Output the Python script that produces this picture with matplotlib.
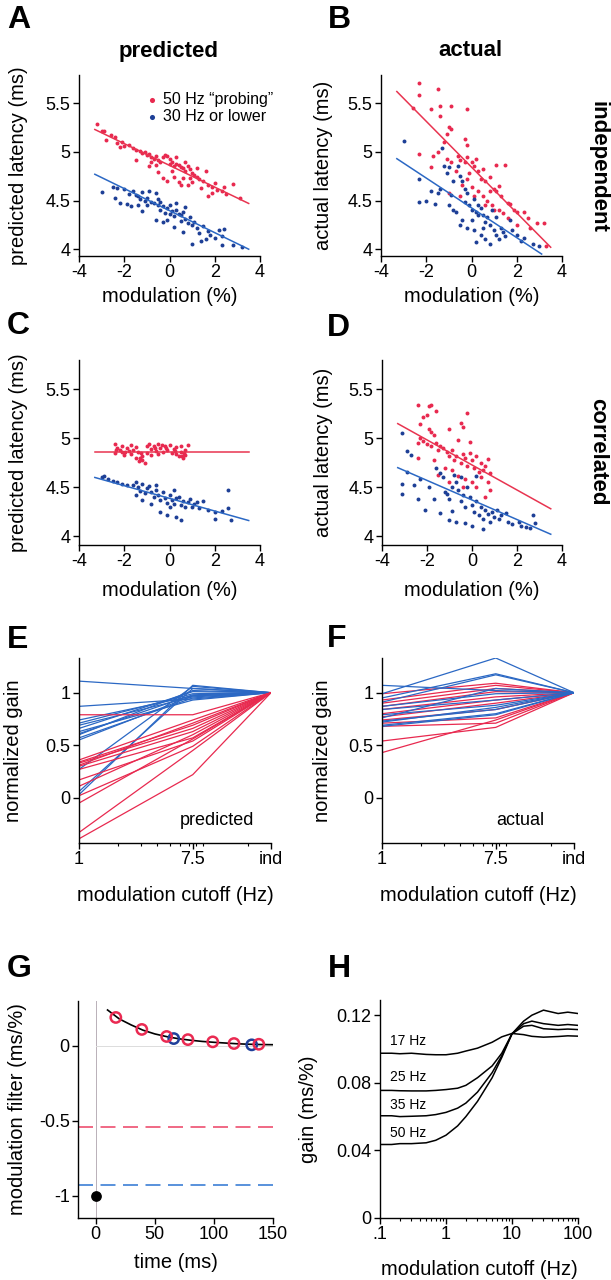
import numpy as np
import matplotlib.pyplot as plt

plt.rcParams['font.family'] = ['Liberation Sans', 'DejaVu Sans']
plt.rcParams['axes.unicode_minus'] = False

RED = '#e8294f'
BLUE = '#1d3f96'
RED_LINE = '#e83450'
BLUE_LINE = '#2b68c4'

# ---------- scatter data (modulation %, latency ms) ----------
a_red = [(-3.2, 5.29), (-3.0, 5.21), (-2.9, 5.21), (-2.6, 5.17), (-2.4, 5.15), (-2.3, 5.09), (-2.1, 5.10),
         (-2.0, 5.06), (-1.8, 5.07), (-1.6, 5.04), (-1.5, 5.02), (-1.3, 5.01), (-1.2, 4.99), (-1.1, 5.00),
         (-1.0, 4.97), (-0.9, 4.98), (-0.8, 4.95), (-0.8, 4.90), (-0.7, 4.93), (-0.6, 4.96), (-0.5, 4.92),
         (-0.4, 4.90), (-0.3, 4.95), (-0.2, 4.97), (-0.1, 4.96), (0.0, 4.93), (0.0, 4.88), (0.1, 4.90),
         (0.2, 4.85), (0.3, 4.88), (0.4, 4.86), (0.5, 4.84), (0.6, 4.83), (0.7, 4.80), (0.8, 4.85),
         (0.9, 4.82), (1.0, 4.78), (1.1, 4.76), (1.2, 4.74), (1.3, 4.72), (1.5, 4.70), (1.7, 4.66),
         (1.9, 4.64), (2.1, 4.61), (2.3, 4.60), (2.5, 4.57), (2.8, 4.67), (3.1, 4.53), (-0.3, 4.73),
         (-0.1, 4.70), (0.2, 4.74), (0.4, 4.69), (0.6, 4.73), (0.8, 4.66), (1.4, 4.63), (1.7, 4.55),
         (1.6, 4.80), (-0.9, 4.85), (-1.5, 4.92), (0.9, 4.73), (2.4, 4.64), (1.9, 4.58), (-0.5, 4.79),
         (0.1, 4.80), (1.2, 4.83), (-2.2, 5.05), (-2.8, 5.12), (0.3, 4.95), (-0.6, 4.87), (0.7, 4.90),
         (1.0, 4.69), (0.5, 4.66), (2.0, 4.68)]
a_blue = [(-3.0, 4.59), (-2.5, 4.64), (-2.3, 4.63), (-2.2, 4.47), (-2.0, 4.62), (-1.9, 4.46), (-1.8, 4.57),
          (-1.7, 4.44), (-1.6, 4.60), (-1.5, 4.56), (-1.4, 4.55), (-1.3, 4.52), (-1.2, 4.59), (-1.1, 4.50),
          (-1.0, 4.53), (-1.0, 4.45), (-0.9, 4.60), (-0.8, 4.49), (-0.7, 4.47), (-0.6, 4.58), (-0.5, 4.45),
          (-0.4, 4.49), (-0.4, 4.40), (-0.3, 4.44), (-0.2, 4.37), (-0.1, 4.42), (0.0, 4.45), (0.0, 4.36),
          (0.1, 4.39), (0.2, 4.34), (0.3, 4.40), (0.4, 4.36), (0.5, 4.35), (0.5, 4.29), (0.6, 4.38),
          (0.7, 4.31), (0.8, 4.27), (0.9, 4.33), (1.0, 4.25), (1.1, 4.28), (1.2, 4.22), (1.3, 4.17),
          (1.4, 4.08), (1.5, 4.24), (1.6, 4.10), (1.7, 4.19), (1.8, 4.15), (2.0, 4.12), (2.2, 4.20),
          (2.4, 4.21), (2.3, 4.14), (2.8, 4.04), (2.3, 4.04), (3.2, 4.02), (-0.6, 4.30), (-0.3, 4.28),
          (0.2, 4.23), (0.6, 4.18), (-1.2, 4.39), (-0.5, 4.52), (0.3, 4.47), (-0.1, 4.30), (1.0, 4.05),
          (0.7, 4.43), (-1.4, 4.45), (-2.4, 4.53)]
b_red = [(-2.3, 5.71), (-2.3, 5.58), (-1.5, 5.65), (-2.6, 5.45), (-1.8, 5.44), (-1.4, 5.47), (-1.4, 5.37),
         (-0.9, 5.47), (-0.2, 5.44), (-1.0, 5.26), (-1.1, 5.18), (-0.9, 5.23), (-1.2, 5.10), (-0.3, 5.13),
         (-0.2, 5.07), (-2.3, 4.98), (-1.7, 4.96), (-1.5, 5.00), (-1.1, 4.93), (-0.9, 4.90), (-0.6, 4.96),
         (-0.5, 4.92), (-0.3, 4.90), (-0.2, 4.95), (0.0, 4.90), (0.1, 4.85), (0.2, 4.93), (0.3, 4.80),
         (0.5, 4.82), (0.6, 4.70), (0.8, 4.74), (1.0, 4.62), (1.1, 4.60), (1.2, 4.65), (1.3, 4.55),
         (1.5, 4.87), (1.1, 4.86), (1.6, 4.47), (1.7, 4.46), (1.9, 4.40), (2.0, 4.38), (2.3, 4.38),
         (2.5, 4.32), (2.6, 4.22), (2.9, 4.27), (3.2, 4.27), (3.3, 4.03), (-0.2, 4.72), (-0.4, 4.66),
         (0.0, 4.64), (0.3, 4.60), (0.5, 4.55), (0.7, 4.50), (0.9, 4.45), (1.2, 4.40), (1.4, 4.37),
         (1.6, 4.32), (0.1, 4.55), (-0.1, 4.78), (0.4, 4.72), (0.8, 4.60), (-0.7, 4.80), (-1.8, 4.84),
         (-1.0, 4.58), (-0.5, 4.55), (2.0, 4.25), (1.0, 4.40), (0.6, 4.45)]
b_blue = [(-3.0, 5.11), (-1.3, 5.04), (-2.3, 4.72), (-2.3, 4.49), (-2.0, 4.50), (-1.8, 4.60), (-1.6, 4.46),
          (-1.4, 4.62), (-1.2, 4.85), (-1.1, 4.78), (-1.0, 4.84), (-0.9, 4.56), (-0.8, 4.70), (-0.6, 4.85),
          (-0.5, 4.75), (-0.4, 4.70), (-0.3, 4.62), (-0.3, 4.48), (-0.2, 4.58), (-0.1, 4.45), (0.0, 4.40),
          (0.0, 4.30), (0.1, 4.52), (0.2, 4.38), (0.3, 4.35), (0.4, 4.42), (0.5, 4.35), (0.6, 4.28),
          (0.7, 4.33), (0.8, 4.25), (0.9, 4.40), (1.0, 4.20), (1.1, 4.15), (1.2, 4.10), (1.3, 4.22),
          (1.4, 4.18), (1.5, 4.14), (1.7, 4.30), (1.8, 4.20), (2.0, 4.15), (2.2, 4.08), (2.3, 4.12),
          (2.7, 4.05), (3.0, 4.03), (-0.4, 4.30), (-0.2, 4.22), (0.1, 4.20), (0.4, 4.15), (0.6, 4.10),
          (0.8, 4.05), (-0.7, 4.38), (-1.0, 4.45), (-0.5, 4.25), (0.2, 4.07), (0.5, 4.22), (-1.5, 4.58),
          (-0.8, 4.40), (0.3, 4.45), (1.1, 4.33)]
c_red = [(-2.4, 4.94), (-2.3, 4.90), (-2.4, 4.85), (-2.2, 4.88), (-2.1, 4.86), (-2.0, 4.83), (-1.9, 4.90),
         (-1.8, 4.87), (-1.7, 4.84), (-1.6, 4.88), (-1.5, 4.91), (-1.4, 4.86), (-1.3, 4.80), (-1.2, 4.82),
         (-1.2, 4.78), (-1.1, 4.75), (-1.0, 4.85), (-1.0, 4.92), (-0.9, 4.94), (-0.8, 4.89), (-0.7, 4.92),
         (-0.6, 4.87), (-0.5, 4.94), (-0.4, 4.90), (-0.3, 4.86), (-0.2, 4.92), (-0.1, 4.88), (0.0, 4.93),
         (0.1, 4.85), (0.2, 4.89), (0.3, 4.84), (0.4, 4.82), (0.5, 4.86), (0.6, 4.80), (0.7, 4.83),
         (0.8, 4.93), (-1.5, 4.80), (-0.5, 4.84), (-2.1, 4.92), (0.3, 4.91), (-0.8, 4.83), (0.5, 4.92),
         (-1.7, 4.93), (0.7, 4.88), (-2.35, 4.88), (-1.95, 4.86), (-1.25, 4.85), (-0.65, 4.90),
         (-0.15, 4.90), (0.25, 4.87), (0.55, 4.82), (0.65, 4.85), (-1.35, 4.77), (-0.35, 4.93)]
c_blue = [(-3.0, 4.60), (-2.9, 4.61), (-2.7, 4.58), (-2.5, 4.56), (-2.3, 4.55), (-2.1, 4.53), (-1.9, 4.52),
          (-1.6, 4.52), (-1.5, 4.55), (-1.4, 4.50), (-1.3, 4.46), (-1.2, 4.53), (-1.1, 4.44), (-1.0, 4.49),
          (-0.9, 4.51), (-0.8, 4.45), (-0.7, 4.40), (-0.6, 4.47), (-0.5, 4.42), (-0.4, 4.37), (-0.3, 4.45),
          (-0.2, 4.39), (-0.1, 4.34), (0.0, 4.42), (0.0, 4.30), (0.1, 4.37), (0.2, 4.33), (0.3, 4.39),
          (0.4, 4.40), (0.5, 4.32), (0.6, 4.36), (0.7, 4.30), (0.8, 4.35), (0.9, 4.38), (1.0, 4.30),
          (1.1, 4.33), (1.2, 4.35), (1.5, 4.36), (1.3, 4.29), (1.7, 4.27), (2.0, 4.25), (2.3, 4.26),
          (2.6, 4.47), (2.6, 4.29), (2.7, 4.17), (2.0, 4.18), (0.3, 4.20), (0.5, 4.17), (-0.4, 4.25),
          (-0.1, 4.22), (-1.5, 4.42), (-0.8, 4.33), (-0.6, 4.52), (0.2, 4.47), (-1.2, 4.37)]
d_red = [(-2.4, 5.34), (-1.9, 5.33), (-1.8, 5.34), (-1.6, 5.28), (-2.2, 5.22), (-2.0, 5.24), (-2.3, 5.15),
         (-0.2, 5.26), (-0.5, 5.16), (-0.4, 5.12), (-1.9, 5.10), (-1.7, 5.03), (-1.0, 5.10), (-1.8, 5.06),
         (-2.3, 5.00), (-2.4, 4.95), (-2.2, 4.97), (-2.0, 4.94), (-1.8, 4.92), (-1.6, 4.95), (-1.5, 4.88),
         (-1.3, 4.90), (-1.1, 4.86), (-1.0, 4.82), (-0.9, 4.88), (-0.8, 4.78), (-0.7, 4.82), (-0.6, 4.98),
         (-0.5, 4.75), (-0.4, 4.84), (-0.3, 4.80), (-0.2, 4.72), (-0.1, 4.85), (0.0, 4.78), (0.1, 4.70),
         (0.2, 4.82), (0.3, 4.66), (0.4, 4.75), (0.5, 4.68), (0.6, 4.72), (0.7, 4.79), (0.8, 4.65),
         (0.7, 4.55), (0.8, 4.47), (0.6, 4.40), (-2.4, 4.80), (-1.7, 4.78), (-1.2, 4.70), (-0.9, 4.68),
         (-0.6, 4.62), (-0.3, 4.58), (0.0, 4.55), (0.2, 4.50), (-0.4, 4.50), (-1.0, 4.55), (-1.5, 4.63),
         (0.4, 4.60), (-0.1, 4.96), (-1.4, 4.92)]
d_blue = [(-3.1, 5.05), (-3.1, 4.53), (-3.1, 4.43), (-2.9, 4.87), (-2.9, 4.66), (-2.7, 4.83), (-2.6, 4.52),
          (-2.3, 4.58), (-2.1, 4.27), (-1.9, 4.50), (-1.7, 4.38), (-1.6, 4.70), (-1.4, 4.65), (-1.3, 4.60),
          (-1.2, 4.45), (-1.1, 4.43), (-1.0, 4.38), (-0.9, 4.50), (-0.8, 4.63), (-0.7, 4.55), (-0.6, 4.47),
          (-0.5, 4.36), (-0.4, 4.42), (-0.3, 4.30), (-0.2, 4.50), (-0.1, 4.40), (0.0, 4.32), (0.1, 4.25),
          (0.2, 4.36), (0.3, 4.22), (0.4, 4.30), (0.5, 4.18), (0.6, 4.27), (0.7, 4.23), (0.8, 4.15),
          (0.9, 4.25), (1.0, 4.20), (1.1, 4.27), (1.2, 4.18), (1.3, 4.22), (1.5, 4.24), (1.6, 4.14),
          (1.8, 4.12), (2.1, 4.15), (2.2, 4.10), (2.4, 4.09), (2.6, 4.08), (2.7, 4.22), (2.8, 4.13),
          (-1.0, 4.17), (-0.7, 4.15), (-0.3, 4.13), (0.0, 4.10), (0.5, 4.07), (-1.4, 4.24), (-0.9, 4.26),
          (-2.4, 4.38), (0.2, 4.62), (-0.5, 4.60)]

# regression lines: end points (modulation %, latency ms)
fit_x = [-3.3, 3.5]
a_red_fit = [5.23, 4.47]
a_blue_fit = [4.77, 4.00]
b_red_fit = [5.62, 4.02]
b_blue_fit_x = [-3.3, 3.1]
b_blue_fit = [4.93, 3.95]
c_red_fit = [4.86, 4.86]
c_blue_fit = [4.60, 4.16]
d_red_fit = [5.15, 4.28]
d_blue_fit = [4.70, 4.02]

# ---------- normalized gain vs modulation cutoff ----------
cutoffs = [1, 7.5, 30]
cutoff_labels = ['1', '7.5', 'ind']
e_blue_1 = [1.11, 0.87, 0.74, 0.71, 0.69, 0.66, 0.63, 0.61, 0.60, 0.57, 0.55, 0.27, 0.06, 0.03]
e_blue_75 = [1.04, 0.94, 0.97, 0.99, 0.96, 1.01, 0.93, 0.98, 1.02, 0.95, 0.97, 1.06, 1.04, 1.07]
e_red_1 = [0.79, 0.36, 0.34, 0.33, 0.31, 0.30, 0.27, 0.17, 0.11, 0.02, -0.05, -0.33, -0.39]
e_red_75 = [0.79, 0.74, 0.69, 0.66, 0.71, 0.63, 0.57, 0.54, 0.60, 0.49, 0.56, 0.45, 0.22]
f_blue_1 = [1.07, 0.99, 0.95, 0.91, 0.87, 0.84, 0.79, 0.76, 0.73, 0.69, 0.68, 0.72]
f_blue_75 = [1.02, 1.33, 1.18, 1.17, 0.99, 0.93, 0.88, 1.04, 0.84, 0.80, 0.79, 0.86]
f_red_1 = [0.99, 0.93, 0.90, 0.87, 0.84, 0.80, 0.77, 0.74, 0.71, 0.68, 0.54, 0.43]
f_red_75 = [1.09, 1.07, 1.04, 1.01, 0.96, 0.93, 0.90, 0.84, 0.76, 0.71, 0.67, 0.74]

# ---------- modulation filter ----------
g_t = [10, 20, 30, 40, 50, 60, 70, 80, 90, 100, 110, 120, 130, 140, 150]
g_filter = [0.24, 0.18, 0.14, 0.105, 0.08, 0.062, 0.048, 0.038, 0.03, 0.024, 0.019, 0.014, 0.011, 0.009, 0.008]
g_red_t = [17, 39, 60, 78, 99, 117, 138]
g_red_v = [0.19, 0.11, 0.063, 0.042, 0.027, 0.016, 0.011]
g_blue_t = [66, 132]
g_blue_v = [0.049, 0.007]
g_red_level = -0.54
g_blue_level = -0.93
g_impulse = (0, -1.0)

# ---------- gain vs modulation cutoff ----------
h_cutoff = [0.1, 0.15, 0.2, 0.3, 0.5, 0.7, 1, 1.5, 2, 3, 5, 7, 10, 15, 20, 30, 50, 70, 100]
h_gain = {
    '17 Hz': [0.0975, 0.0975, 0.0972, 0.0975, 0.0968, 0.0966, 0.0966, 0.0975, 0.0988, 0.1005, 0.1040,
              0.1072, 0.1092, 0.1085, 0.1075, 0.1070, 0.1074, 0.1078, 0.1076],
    '25 Hz': [0.0755, 0.0755, 0.0753, 0.0752, 0.0752, 0.0755, 0.0760, 0.0768, 0.0785, 0.0830, 0.0900,
              0.0975, 0.1090, 0.1135, 0.1140, 0.1120, 0.1115, 0.1118, 0.1115],
    '35 Hz': [0.0605, 0.0605, 0.0600, 0.0602, 0.0605, 0.0612, 0.0625, 0.0650, 0.0680, 0.0745, 0.0860,
              0.0960, 0.1090, 0.1150, 0.1165, 0.1150, 0.1140, 0.1145, 0.1140],
    '50 Hz': [0.0435, 0.0435, 0.0440, 0.0440, 0.0445, 0.0460, 0.0490, 0.0545, 0.0600, 0.0690, 0.0830,
              0.0950, 0.1090, 0.1165, 0.1200, 0.1230, 0.1210, 0.1218, 0.1210],
}
h_label_y = {'17 Hz': 0.1005, '25 Hz': 0.0790, '35 Hz': 0.0625, '50 Hz': 0.0462}

W, H = 611, 1280
fig = plt.figure(figsize=(W / 100, H / 100), dpi=100)


def add_ax(left, right, top, bottom):
    return fig.add_axes([left / W, 1 - bottom / H, (right - left) / W, (bottom - top) / H])


def style(ax):
    for s in ['top', 'right']:
        ax.spines[s].set_visible(False)
    for s in ['left', 'bottom']:
        ax.spines[s].set_linewidth(1.0)
    ax.tick_params(direction='out', length=4, width=1.0, labelsize=13, pad=2)
    ax.tick_params(which='minor', direction='out', length=2, width=0.8)


def pixel_label(ax, which, text, px, box):
    left, right, top, bottom = box
    if which == 'y':
        ax.set_ylabel(text, fontsize=14.5)
        ax.yaxis.set_label_coords((px - left) / (right - left), 0.5)
    else:
        ax.set_xlabel(text, fontsize=14.5)
        ax.xaxis.set_label_coords(0.5, -(px - bottom) / (bottom - top))


def scatter_panel(box, red, blue, red_fit, blue_fit, ylab, ylab_px, xlab_px, blue_fit_x=fit_x):
    ax = add_ax(*box)
    style(ax)
    r = np.array(red)
    b = np.array(blue)
    ax.scatter(r[:, 0], r[:, 1], s=8, color=RED, lw=0, label='50 Hz \u201cprobing\u201d')
    ax.scatter(b[:, 0], b[:, 1], s=8, color=BLUE, lw=0, label='30 Hz or lower')
    ax.plot(fit_x, red_fit, color=RED_LINE, lw=1.1)
    ax.plot(blue_fit_x, blue_fit, color=BLUE_LINE, lw=1.1)
    ax.set_xlim(-4, 4)
    ax.set_xticks([-4, -2, 0, 2, 4])
    ax.set_xticklabels(['-4', '-2', '0', '2', '4'])
    ax.set_yticks([4, 4.5, 5, 5.5])
    ax.set_yticklabels(['4', '4.5', '5', '5.5'])
    pixel_label(ax, 'y', ylab, ylab_px, box)
    pixel_label(ax, 'x', 'modulation (%)', xlab_px, box)
    return ax


boxA = (79, 260, 75, 256)
boxB = (381, 562, 75, 256)
boxC = (79, 260, 360, 545)
boxD = (382, 562, 360, 545)
axA = scatter_panel(boxA, a_red, a_blue, a_red_fit, a_blue_fit, 'predicted latency (ms)', 28, 287)
axA.set_ylim(3.93, 5.79)
axA.legend(loc='upper left', bbox_to_anchor=(0.33, 0.95), frameon=False, fontsize=11.5,
           handlelength=0.6, handletextpad=0.45, labelspacing=0.15, borderpad=0, markerscale=1.3)
axB = scatter_panel(boxB, b_red, b_blue, b_red_fit, b_blue_fit, 'actual latency (ms)', 333, 287,
                    blue_fit_x=b_blue_fit_x)
axB.set_ylim(3.93, 5.79)
axC = scatter_panel(boxC, c_red, c_blue, c_red_fit, c_blue_fit, 'predicted latency (ms)', 28, 581)
axC.set_ylim(3.91, 5.80)
axD = scatter_panel(boxD, d_red, d_blue, d_red_fit, d_blue_fit, 'actual latency (ms)', 333, 581)
axD.set_ylim(3.91, 5.80)


def gain_panel(box, blue1, blue75, red1, red75, note, ylab_px, red_on_top):
    ax = add_ax(*box)
    style(ax)
    ax.set_xscale('log')
    groups = [(blue1, blue75, BLUE_LINE), (red1, red75, RED)]
    if not red_on_top:
        groups = groups[::-1]
    for v1, v75, col in groups:
        for a, b in zip(v1, v75):
            ax.plot(cutoffs, [a, b, 1.0], color=col, lw=0.9)
    ax.set_xlim(cutoffs[0], cutoffs[-1])
    ax.set_ylim(-0.43, 1.33)
    ax.set_xticks(cutoffs)
    ax.set_xticklabels(cutoff_labels)
    ax.set_yticks([0, 0.5, 1])
    ax.set_yticklabels(['0', '0.5', '1'])
    ax.text(0.72, 0.12, note, transform=ax.transAxes, fontsize=13, ha='center', va='center')
    pixel_label(ax, 'y', 'normalized gain', ylab_px, box)
    pixel_label(ax, 'x', 'modulation cutoff (Hz)', 886, box)
    return ax


boxE = (79, 271, 658, 843)
boxF = (382, 574, 658, 843)
gain_panel(boxE, e_blue_1, e_blue_75, e_red_1, e_red_75, 'predicted', 23, True)
gain_panel(boxF, f_blue_1, f_blue_75, f_red_1, f_red_75, 'actual', 332, False)

# panel G
boxG = (78, 273, 1001, 1218)
axG = add_ax(*boxG)
style(axG)
axG.set_xlim(-15, 150)
axG.set_ylim(-1.15, 0.30)
axG.axvline(0, color='#b9b0b8', lw=0.7)
axG.plot([0, 150], [0, 0], color='#dcdcdc', lw=0.7)
axG.plot([-15, 150], [g_red_level] * 2, color='#ee4f70', lw=1.2, ls=(0, (9, 4.5)))
axG.plot([-15, 150], [g_blue_level] * 2, color='#3c7fd6', lw=1.2, ls=(0, (9, 4.5)))
axG.plot(g_t, g_filter, color='black', lw=1.2)
axG.scatter(g_blue_t, g_blue_v, s=55, facecolors='none', edgecolors='#1f3f9a', lw=1.8, zorder=3)
axG.scatter(g_red_t, g_red_v, s=55, facecolors='none', edgecolors='#ea2a52', lw=1.8, zorder=4)
axG.scatter([g_impulse[0]], [g_impulse[1]], s=45, color='black', zorder=5)
axG.set_xticks([0, 50, 100, 150])
axG.set_yticks([0, -0.5, -1])
axG.set_yticklabels(['0', '-0.5', '-1'])
pixel_label(axG, 'y', 'modulation filter (ms/%)', 27, boxG)
pixel_label(axG, 'x', 'time (ms)', 1253, boxG)

# panel H
boxH = (380, 578, 1000, 1218)
axH = add_ax(*boxH)
style(axH)
axH.set_xscale('log')
for name, vals in h_gain.items():
    axH.plot(h_cutoff, vals, color='black', lw=1.1)
    axH.text(0.14, h_label_y[name], name, fontsize=10, va='bottom', ha='left')
axH.set_xlim(0.1, 100)
axH.set_ylim(0, 0.129)
axH.set_xticks([0.1, 1, 10, 100])
axH.set_xticklabels(['.1', '1', '10', '100'])
axH.set_yticks([0, 0.04, 0.08, 0.12])
axH.set_yticklabels(['0', '0.04', '0.08', '0.12'])
pixel_label(axH, 'y', 'gain (ms/%)', 318, boxH)
pixel_label(axH, 'x', 'modulation cutoff (Hz)', 1260, boxH)

# panel letters, column titles, row labels
for letter, x, y in [('A', 7, 28), ('B', 328, 28), ('C', 7, 334), ('D', 327, 336),
                     ('E', 7, 648), ('F', 327, 647), ('G', 7, 977), ('H', 328, 977)]:
    fig.text(x / W, 1 - y / H, letter, fontsize=23, fontweight='bold', va='baseline', ha='left')
fig.text(169 / W, 1 - 51 / H, 'predicted', fontsize=16, fontweight='bold', ha='center', va='center')
fig.text(470 / W, 1 - 51 / H, 'actual', fontsize=16, fontweight='bold', ha='center', va='center')
fig.text(598 / W, 1 - 167 / H, 'independent', fontsize=16, fontweight='bold', rotation=-90,
         ha='center', va='center')
fig.text(598 / W, 1 - 452 / H, 'correlated', fontsize=16, fontweight='bold', rotation=-90,
         ha='center', va='center')

fig.savefig('out.png', dpi=100)
